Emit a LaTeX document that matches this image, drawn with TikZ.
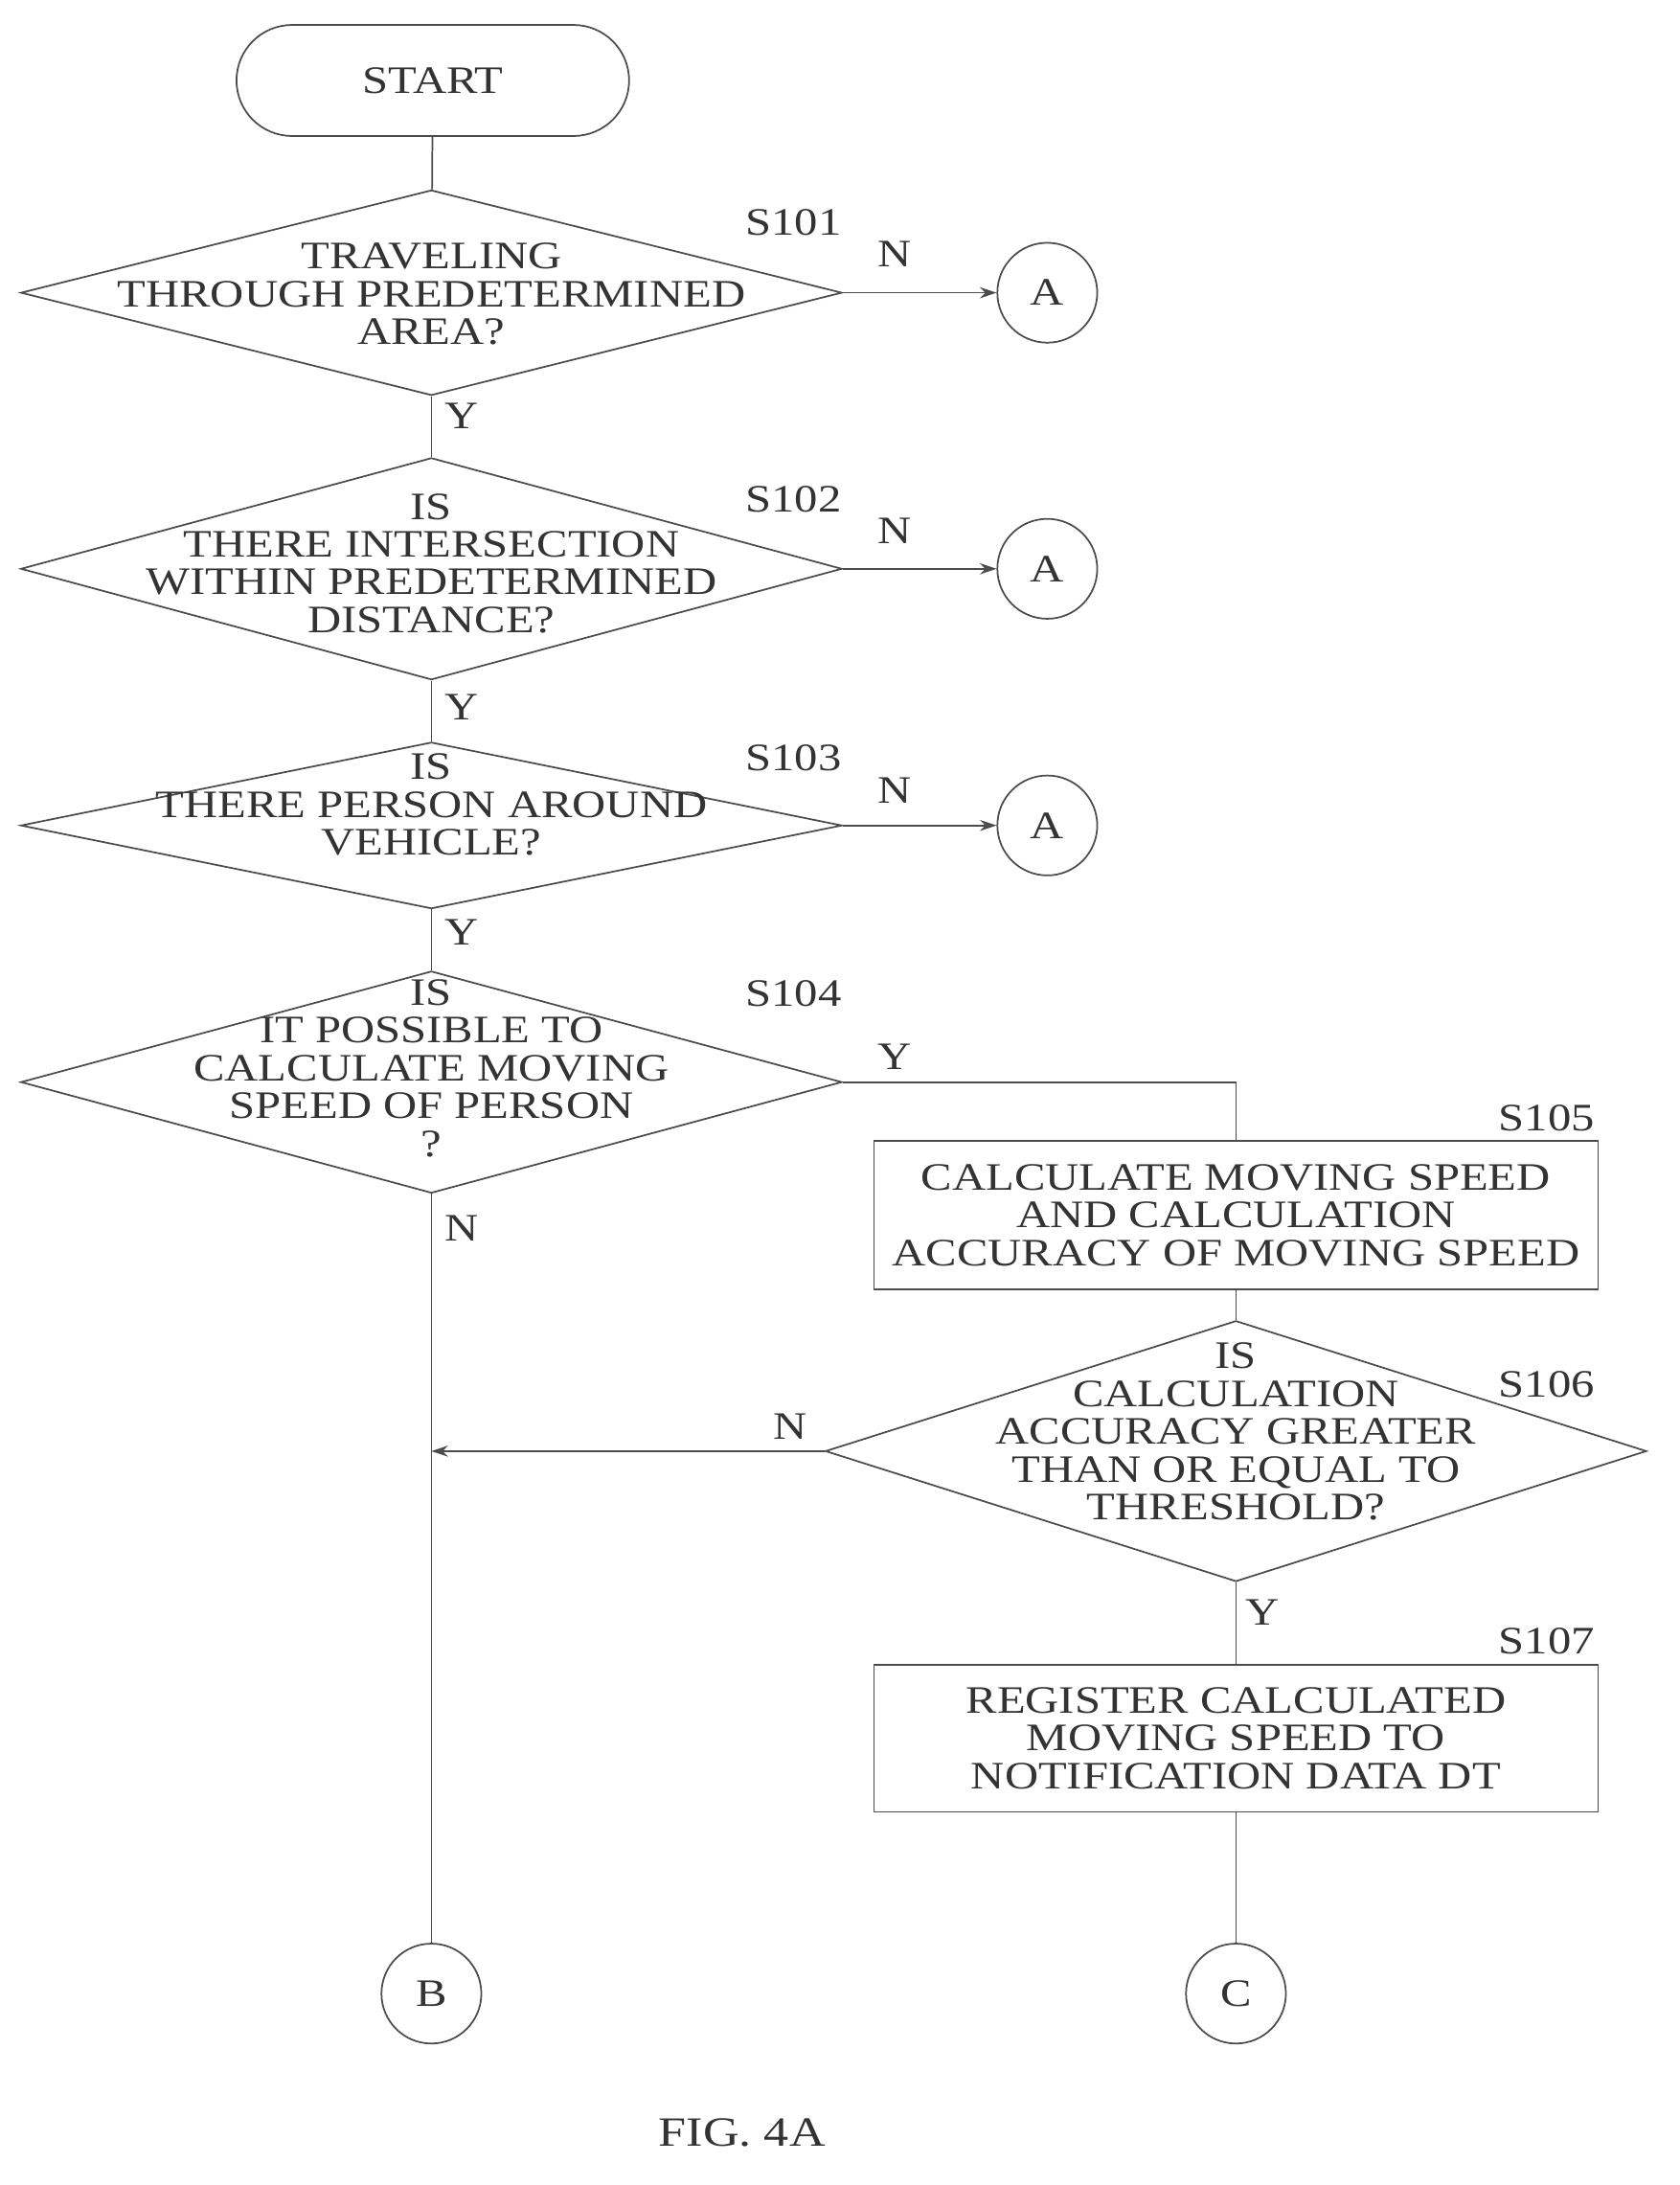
\documentclass[tikz,border=0pt]{standalone}
\usepackage{fontspec}
\setmainfont[FakeStretch=1.2]{Liberation Serif}
\usetikzlibrary{shapes.geometric,arrows.meta}
\begin{document}
\begin{tikzpicture}[x=0.5pt,y=-0.5pt,
  every node/.style={font=\fontsize{14}{13.6}\selectfont, text=black!80},
  ln/.style={draw=black!70, line width=0.6pt},
  dia/.style={ln, diamond, inner sep=0pt},
  txt/.style={align=center, inner sep=0pt},
  box/.style={ln, rectangle, inner sep=0pt},
  conn/.style={ln, circle, minimum size=36pt, inner sep=0pt},
  lab/.style={inner sep=0pt},
  arr/.style={ln, -{Stealth[length=6pt,width=4pt]}}]
\useasboundingbox (0,0) rectangle (1211,1575);
\node[ln, rounded corners=20pt, minimum width=141.5pt, minimum height=40pt] (start) at (312,58) {START};
% S101
\node[dia, minimum width=296pt, minimum height=74pt] (d1) at (311,211) {};
\node[txt] at (311,212) {TRAVELING\\THROUGH PREDETERMINED\\AREA?};
\node[lab] at (572,160) {S101};
\node[conn] (a1) at (755,211) {A};
\node[lab] at (645,183) {N};
\node[lab] at (333,300) {Y};
% S102
\node[dia, minimum width=296pt, minimum height=80pt] (d2) at (311,410) {};
\node[txt] at (311,406) {IS\\THERE INTERSECTION\\WITHIN PREDETERMINED\\DISTANCE?};
\node[lab] at (572,360) {S102};
\node[conn] (a2) at (755,410) {A};
\node[lab] at (645,383) {N};
\node[lab] at (333,510) {Y};
% S103
\node[dia, minimum width=296pt, minimum height=60pt] (d3) at (311,595) {};
\node[txt] at (311,580) {IS\\THERE PERSON AROUND\\VEHICLE?};
\node[lab] at (572,546) {S103};
\node[conn] (a3) at (755,595) {A};
\node[lab] at (645,570) {N};
\node[lab] at (333,672) {Y};
% S104
\node[dia, minimum width=296pt, minimum height=80pt] (d4) at (311,780) {};
\node[txt] at (311,770) {IS\\IT POSSIBLE TO\\CALCULATE MOVING\\SPEED OF PERSON\\?};
\node[lab] at (572,716) {S104};
\node[lab] at (645,762) {Y};
\node[lab] at (333,885) {N};
% S105
\node[box, minimum width=261pt, minimum height=53.5pt] (b5) at (891,876) {};
\node[txt] at (891,876) {CALCULATE MOVING SPEED\\AND CALCULATION\\ACCURACY OF MOVING SPEED};
\node[lab] at (1115,806) {S105};
% S106
\node[dia, minimum width=296pt, minimum height=94pt] (d6) at (891,1046) {};
\node[txt] at (891,1032) {IS\\CALCULATION\\ACCURACY GREATER\\THAN OR EQUAL TO\\THRESHOLD?};
\node[lab] at (1115,998) {S106};
\node[lab] at (570,1028) {N};
\node[lab] at (910,1162) {Y};
% S107
\node[box, minimum width=261pt, minimum height=53pt] (b7) at (891,1253) {};
\node[txt] at (891,1253) {REGISTER CALCULATED\\MOVING SPEED TO\\NOTIFICATION DATA DT};
\node[lab] at (1115,1183) {S107};
\node[conn] (cb) at (311,1437) {B};
\node[conn] (cc) at (891,1437) {C};
\coordinate (m) at (311,1046);
\node[font=\fontsize{15}{16}\selectfont] (fig) at (535,1537) {FIG. 4A};
% connectors
\draw[ln] (start) -- (d1);
\draw[arr] (d1.east) -- (a1);
\draw[arr] (d2.east) -- (a2);
\draw[arr] (d3.east) -- (a3);
\draw[ln] (d1) -- (d2);
\draw[ln] (d2) -- (d3);
\draw[ln] (d3) -- (d4);
\draw[ln] (d4.east) -| (b5.north);
\draw[ln] (b5) -- (d6);
\draw[ln] (d6) -- (b7);
\draw[ln] (b7) -- (cc);
\draw[ln] (d4.south) -- (cb);
\draw[arr] (d6.west) -- (m);
\end{tikzpicture}
\end{document}
